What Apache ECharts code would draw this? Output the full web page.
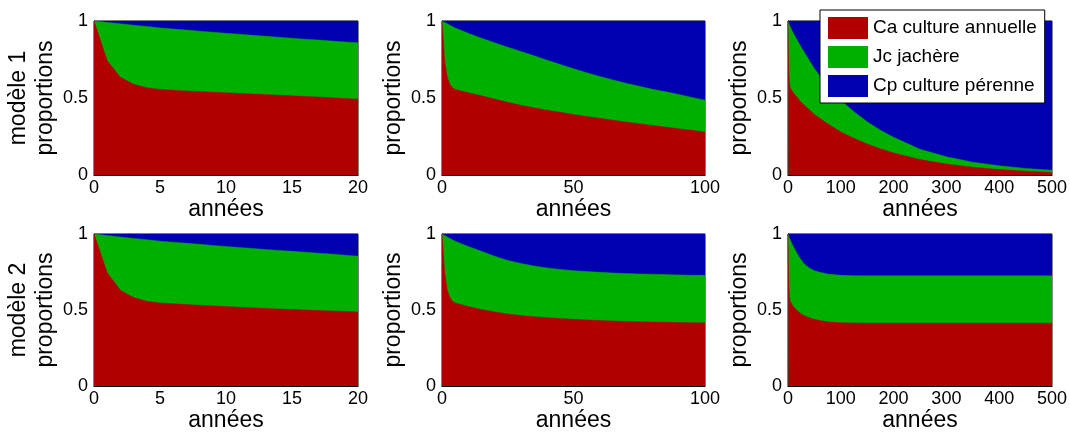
<!DOCTYPE html>
<html>
<head>
<meta charset="utf-8">
<script src="https://cdn.jsdelivr.net/npm/echarts@6/dist/echarts.min.js"></script>
<style>html,body{margin:0;padding:0;background:#fff}#c{width:1070px;height:433px}</style>
</head>
<body>
<div id="c"></div>
<script>
// ---- Data (proportions) ----
const seriesNames = ['Ca culture annuelle', 'Jc jachère', 'Cp culture pérenne'];
const rowLabels = ['modèle 1', 'modèle 2'];
const yTicks = [0, 0.5, 1];

// Model 1, 0-20 years
const years1 = [0,1,2,3,4,5,6,7,8,9,10,11,12,13,14,15,16,17,18,19,20];
const ca1 = [1.000,0.742,0.635,0.589,0.567,0.556,0.551,0.546,0.542,0.538,0.534,0.530,0.526,0.522,0.518,0.514,0.510,0.506,0.502,0.497,0.492];
const jc1 = [0.000,0.249,0.347,0.384,0.397,0.399,0.397,0.395,0.392,0.389,0.386,0.384,0.381,0.379,0.376,0.374,0.372,0.370,0.368,0.367,0.366];
const cp1 = [0.000,0.009,0.018,0.027,0.036,0.045,0.052,0.059,0.066,0.073,0.080,0.086,0.093,0.099,0.106,0.112,0.118,0.124,0.130,0.136,0.142];

// Model 1, 0-100 years
const years2 = [0,1,2,3,4,5,10,15,20,25,30,35,40,45,50,55,60,65,70,75,80,85,90,95,100];
const ca2 = [1.000,0.742,0.635,0.589,0.567,0.556,0.534,0.514,0.493,0.472,0.453,0.436,0.421,0.407,0.393,0.380,0.368,0.356,0.344,0.333,0.322,0.311,0.300,0.290,0.280];
const jc2 = [0.000,0.249,0.347,0.384,0.397,0.399,0.386,0.374,0.365,0.358,0.349,0.338,0.324,0.310,0.297,0.284,0.272,0.261,0.251,0.243,0.235,0.229,0.223,0.214,0.206];
const cp2 = [0.000,0.009,0.018,0.027,0.036,0.045,0.080,0.112,0.142,0.170,0.198,0.226,0.255,0.283,0.310,0.336,0.360,0.383,0.405,0.424,0.443,0.460,0.477,0.496,0.514];

// Model 1, 0-500 years
const years3 = [0,1,2,3,4,5,10,25,50,75,100,125,150,175,200,250,300,350,400,450,500];
const ca3 = [1.000,0.742,0.635,0.589,0.567,0.556,0.534,0.472,0.393,0.333,0.280,0.238,0.202,0.170,0.143,0.100,0.071,0.051,0.035,0.025,0.017];
const jc3 = [0.000,0.249,0.347,0.384,0.397,0.399,0.386,0.358,0.297,0.243,0.206,0.172,0.143,0.121,0.102,0.067,0.047,0.032,0.025,0.018,0.014];
const cp3 = [0.000,0.009,0.018,0.027,0.036,0.045,0.080,0.170,0.310,0.424,0.514,0.590,0.655,0.709,0.755,0.833,0.882,0.917,0.940,0.957,0.969];

// Model 2, 0-20 years
const years4 = [0,1,2,3,4,5,6,7,8,9,10,11,12,13,14,15,16,17,18,19,20];
const ca4 = [1.000,0.745,0.630,0.582,0.558,0.547,0.541,0.536,0.531,0.527,0.523,0.519,0.515,0.511,0.507,0.503,0.500,0.497,0.494,0.491,0.488];
const jc4 = [0.000,0.245,0.350,0.389,0.404,0.406,0.405,0.403,0.401,0.398,0.395,0.392,0.390,0.387,0.385,0.383,0.380,0.377,0.374,0.370,0.366];
const cp4 = [0.000,0.010,0.020,0.029,0.038,0.047,0.054,0.061,0.068,0.075,0.082,0.089,0.095,0.102,0.108,0.114,0.120,0.126,0.132,0.139,0.146];

// Model 2, 0-100 years
const years5 = [0,1,2,3,4,5,10,15,20,25,30,35,40,45,50,55,60,65,70,75,80,85,90,95,100];
const ca5 = [1.000,0.745,0.630,0.582,0.558,0.547,0.523,0.503,0.488,0.474,0.464,0.456,0.450,0.444,0.439,0.435,0.431,0.428,0.425,0.423,0.421,0.420,0.418,0.417,0.416];
const jc5 = [0.000,0.245,0.350,0.389,0.404,0.406,0.395,0.383,0.366,0.352,0.342,0.334,0.327,0.323,0.320,0.318,0.317,0.316,0.315,0.314,0.314,0.313,0.313,0.312,0.312];
const cp5 = [0.000,0.010,0.020,0.029,0.038,0.047,0.082,0.114,0.146,0.174,0.194,0.210,0.223,0.233,0.241,0.247,0.252,0.256,0.260,0.263,0.265,0.267,0.269,0.271,0.272];

// Model 2, 0-500 years
const years6 = [0,1,2,3,4,5,10,20,30,40,50,60,75,100,125,150,200,250,300,350,400,450,500];
const ca6 = [1.000,0.745,0.630,0.582,0.558,0.547,0.523,0.488,0.464,0.450,0.439,0.431,0.423,0.416,0.415,0.414,0.414,0.414,0.414,0.414,0.414,0.414,0.414];
const jc6 = [0.000,0.245,0.350,0.389,0.404,0.406,0.395,0.366,0.342,0.327,0.320,0.317,0.314,0.312,0.311,0.311,0.311,0.311,0.311,0.311,0.311,0.311,0.311];
const cp6 = [0.000,0.010,0.020,0.029,0.038,0.047,0.082,0.146,0.194,0.223,0.241,0.252,0.263,0.272,0.274,0.275,0.275,0.275,0.275,0.275,0.275,0.275,0.275];

const xTicks20 = [0,5,10,15,20];
const xTicks100 = [0,50,100];
const xTicks500 = [0,100,200,300,400,500];

// ---- Layout / style ----
const colors = ['#b00000', '#00b000', '#0000b0'];
const FONT = 'Liberation Sans, Arial, Helvetica, sans-serif';
const colLeft = [94, 442, 788];
const colWidth = [264, 263, 264];
const rowTop = [21, 234];
const rowHeight = [154, 153];

const panels = [
  {row:0, col:0, x:years1, s:[ca1,jc1,cp1], ticks:xTicks20},
  {row:0, col:1, x:years2, s:[ca2,jc2,cp2], ticks:xTicks100},
  {row:0, col:2, x:years3, s:[ca3,jc3,cp3], ticks:xTicks500},
  {row:1, col:0, x:years4, s:[ca4,jc4,cp4], ticks:xTicks20},
  {row:1, col:1, x:years5, s:[ca5,jc5,cp5], ticks:xTicks100},
  {row:1, col:2, x:years6, s:[ca6,jc6,cp6], ticks:xTicks500}
];

const grid = [], xAxis = [], yAxis = [], series = [];
panels.forEach((p, i) => {
  grid.push({
    left: colLeft[p.col], top: rowTop[p.row],
    width: colWidth[p.col], height: rowHeight[p.row],
    show: true, borderColor: '#000', borderWidth: 1, backgroundColor: 'transparent'
  });
  const tmin = p.ticks[0], tmax = p.ticks[p.ticks.length - 1];
  xAxis.push({
    type: 'value', gridIndex: i, min: tmin, max: tmax,
    interval: p.ticks[1] - p.ticks[0],
    name: 'années', nameLocation: 'middle', nameGap: 20,
    nameTextStyle: {fontSize: 23, color: '#000', fontFamily: FONT},
    axisLine: {show: true, lineStyle: {color: '#000', width: 1}},
    axisTick: {show: false},
    splitLine: {show: false},
    axisLabel: {fontSize: 18, color: '#000', fontFamily: FONT, margin: 4}
  });
  yAxis.push({
    type: 'value', gridIndex: i, min: yTicks[0], max: yTicks[yTicks.length - 1],
    interval: yTicks[1] - yTicks[0],
    name: p.col === 0 ? rowLabels[p.row] + '\nproportions' : 'proportions',
    nameLocation: 'middle', nameRotate: 90, nameGap: 35,
    nameTextStyle: {fontSize: 23, color: '#000', fontFamily: FONT, lineHeight: 27},
    axisLine: {show: true, lineStyle: {color: '#000', width: 1}},
    axisTick: {show: false},
    splitLine: {show: false},
    axisLabel: {fontSize: 18, color: '#000', fontFamily: FONT, margin: 6}
  });
  // stacked areas: each band is drawn from 0 up to its cumulative top,
  // the lower bands drawn over the upper ones
  const cum = p.x.map(() => 0);
  p.s.forEach((arr, k) => {
    const tops = arr.map((v, j) => (cum[j] = Math.round((cum[j] + v) * 1000) / 1000));
    series.push({
      name: seriesNames[k], type: 'line', xAxisIndex: i, yAxisIndex: i,
      showSymbol: false, symbol: 'none', smooth: false, animation: false,
      z: 5 - k,
      lineStyle: {width: 0.5, color: colors[k]},
      itemStyle: {color: colors[k]},
      areaStyle: {color: colors[k], opacity: 1, origin: 'start'},
      data: p.x.map((xv, j) => [xv, tops[j]])
    });
  });
});

const chart = echarts.init(document.getElementById('c'), null, {renderer: 'canvas'});
chart.setOption({
  animation: false,
  backgroundColor: '#fff',
  grid, xAxis, yAxis, series,
  legend: {
    data: seriesNames, orient: 'vertical', left: 820, top: 10,
    itemWidth: 40, itemHeight: 22, itemGap: 7, icon: 'rect',
    backgroundColor: '#fff', borderColor: '#000', borderWidth: 1,
    padding: [7, 8, 6, 8],
    textStyle: {fontSize: 19, color: '#000', fontFamily: FONT},
    selectedMode: false, z: 10
  }
});
</script>
</body>
</html>
